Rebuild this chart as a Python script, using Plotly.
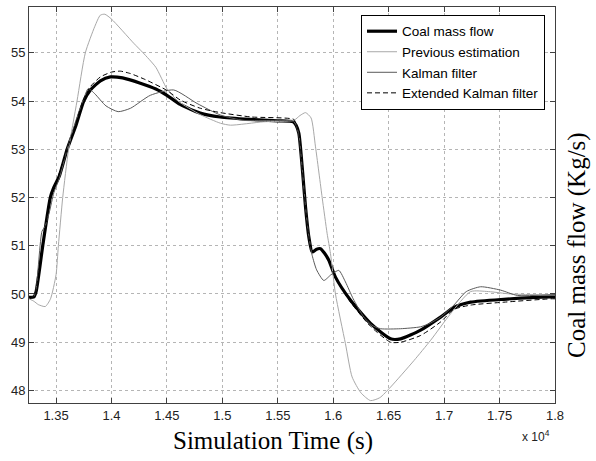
import plotly.graph_objects as go

# ---- data (time in units of 1e4 s, flow in kg/s) ----
t_coal = [1.3256, 1.3300, 1.3320, 1.3380, 1.3448, 1.3478, 1.3530, 1.3600, 1.3680, 1.3750, 1.3810, 1.3900,
          1.3990, 1.4100, 1.4260, 1.4400, 1.4500, 1.4620, 1.4800, 1.4980, 1.5250, 1.5500, 1.5640, 1.5665,
          1.5690, 1.5720, 1.5750, 1.5780, 1.5810, 1.5850, 1.5885, 1.5920, 1.5960, 1.6020, 1.6156, 1.6336,
          1.6517, 1.6607, 1.6788, 1.6968, 1.7088, 1.7239, 1.7539, 1.7961, 1.8000]
v_coal = [49.93, 49.94, 50.05, 51.00, 52.00, 52.20, 52.45, 53.00, 53.50, 54.00, 54.23, 54.42,
          54.50, 54.48, 54.37, 54.25, 54.12, 53.93, 53.75, 53.67, 53.62, 53.59, 53.57, 53.50,
          53.33, 52.63, 51.80, 51.18, 50.87, 50.93, 50.94, 50.85, 50.70, 50.35, 49.87, 49.39,
          49.07, 49.07, 49.25, 49.52, 49.72, 49.83, 49.89, 49.94, 49.94]

t_prev = [1.3256, 1.3300, 1.3340, 1.3403, 1.3450, 1.3500, 1.3521, 1.3560, 1.3613, 1.3689, 1.3764, 1.3850,
          1.3899, 1.3940, 1.4000, 1.4200, 1.4285, 1.4400, 1.4501, 1.4600, 1.4800, 1.4983, 1.5073, 1.5370,
          1.5644, 1.5700, 1.5750, 1.5800, 1.5840, 1.5900, 1.5945, 1.5975, 1.6020, 1.6110, 1.6170, 1.6250,
          1.6336, 1.6420, 1.6517, 1.6728, 1.6878, 1.7058, 1.7239, 1.7400, 1.7600, 1.8000]
v_prev = [49.90, 49.85, 49.78, 49.74, 49.90, 50.40, 51.00, 52.00, 53.00, 54.00, 55.00, 55.55,
          55.78, 55.80, 55.70, 55.20, 55.00, 54.70, 54.25, 54.00, 53.72, 53.54, 53.50, 53.57,
          53.60, 53.70, 53.76, 53.65, 53.05, 52.00, 51.25, 50.84, 50.00, 48.97, 48.28, 47.95,
          47.79, 47.85, 48.07, 48.62, 49.04, 49.59, 50.05, 50.05, 50.00, 49.98]

t_kal = [1.3256, 1.3300, 1.3320, 1.3373, 1.3400, 1.3440, 1.3480, 1.3530, 1.3600, 1.3680, 1.3750, 1.3791,
         1.3850, 1.3950, 1.4060, 1.4171, 1.4351, 1.4561, 1.4772, 1.4983, 1.5193, 1.5641, 1.5665, 1.5690,
         1.5720, 1.5750, 1.5780, 1.5810, 1.5850, 1.5915, 1.5980, 1.6050, 1.6110, 1.6180, 1.6276, 1.6350,
         1.6427, 1.6607, 1.6788, 1.6878, 1.6968, 1.7088, 1.7200, 1.7329, 1.7510, 1.7660, 1.8000]
v_kal = [49.95, 49.95, 50.10, 51.30, 51.40, 51.70, 52.10, 52.40, 53.00, 53.60, 54.05, 54.26,
         54.15, 53.90, 53.78, 53.85, 54.12, 54.23, 53.95, 53.71, 53.60, 53.58, 53.50, 53.30,
         52.60, 51.80, 51.20, 50.80, 50.50, 50.28, 50.40, 50.49, 50.25, 49.90, 49.52, 49.35,
         49.28, 49.28, 49.32, 49.40, 49.52, 49.77, 50.05, 50.15, 50.08, 49.97, 49.99]

t_ekf = [1.3256, 1.3300, 1.3320, 1.3380, 1.3448, 1.3500, 1.3600, 1.3680, 1.3750, 1.3810, 1.3900, 1.4000,
         1.4080, 1.4171, 1.4300, 1.4501, 1.4621, 1.4802, 1.4983, 1.5260, 1.5644, 1.5665, 1.5690, 1.5720,
         1.5750, 1.5780, 1.5810, 1.5850, 1.5885, 1.5920, 1.5960, 1.6020, 1.6156, 1.6336, 1.6517, 1.6607,
         1.6788, 1.6968, 1.7088, 1.7239, 1.7539, 1.7961, 1.8000]
v_ekf = [49.95, 49.95, 50.10, 51.00, 51.95, 52.30, 53.00, 53.55, 54.05, 54.30, 54.50, 54.60,
         54.62, 54.57, 54.45, 54.22, 54.02, 53.85, 53.76, 53.67, 53.62, 53.52, 53.35, 52.65,
         51.80, 51.20, 50.90, 50.92, 50.92, 50.83, 50.68, 50.33, 49.83, 49.33, 49.00, 49.00,
         49.14, 49.42, 49.68, 49.77, 49.83, 49.90, 49.90]

x_ticks = [1.35, 1.4, 1.45, 1.5, 1.55, 1.6, 1.65, 1.7, 1.75, 1.8]
x_tick_text = ["1.35", "1.4", "1.45", "1.5", "1.55", "1.6", "1.65", "1.7", "1.75", "1.8"]
y_ticks = [48, 49, 50, 51, 52, 53, 54, 55]
y_tick_text = ["48", "49", "50", "51", "52", "53", "54", "55"]

fig = go.Figure()
fig.add_trace(go.Scatter(x=t_coal, y=v_coal, name="Coal mass flow", mode="lines",
                         line=dict(color="black", width=3.2, shape="spline", smoothing=0.6)))
fig.add_trace(go.Scatter(x=t_prev, y=v_prev, name="Previous estimation", mode="lines",
                         line=dict(color="#a8a8a8", width=1, shape="spline", smoothing=0.6)))
fig.add_trace(go.Scatter(x=t_kal, y=v_kal, name="Kalman filter", mode="lines",
                         line=dict(color="#5a5a5a", width=1, shape="spline", smoothing=0.6)))
fig.add_trace(go.Scatter(x=t_ekf, y=v_ekf, name="Extended Kalman filter", mode="lines",
                         line=dict(color="black", width=1, dash="5px,3px", shape="spline", smoothing=0.6)))

axis_common = dict(showline=True, linecolor="#404040", linewidth=1, mirror="ticks",
                   ticks="inside", ticklen=5, tickcolor="#404040",
                   showgrid=True, gridcolor="#b5b5b5", griddash="dot", gridwidth=1,
                   zeroline=False,
                   tickfont=dict(family="Liberation Sans, Arial", size=13, color="#222222"))

fig.update_xaxes(range=[1.3256, 1.8], tickvals=x_ticks, ticktext=x_tick_text, **axis_common)
fig.update_yaxes(range=[47.74, 55.95], tickvals=y_ticks, ticktext=y_tick_text, **axis_common)

fig.update_layout(
    width=596, height=461,
    margin=dict(l=29, r=41, t=7, b=58),
    paper_bgcolor="white", plot_bgcolor="white",
    showlegend=True,
    legend=dict(x=0.981, y=0.98, xanchor="right", yanchor="top",
                bgcolor="white", bordercolor="black", borderwidth=1,
                font=dict(family="Liberation Sans, Arial", size=13.5, color="black"),
                tracegroupgap=0, itemwidth=30),
    annotations=[
        dict(text="Simulation Time (s)", xref="paper", yref="paper", x=(273 - 29) / 526, y=-(441 - 403) / 396,
             xanchor="center", yanchor="middle", showarrow=False,
             font=dict(family="Liberation Serif, Times New Roman", size=25, color="black")),
        dict(text="Coal mass flow (Kg/s)", xref="paper", yref="paper", x=(577 - 29) / 526, y=(403 - 245) / 396,
             xanchor="center", yanchor="middle", showarrow=False, textangle=-90,
             font=dict(family="Liberation Serif, Times New Roman", size=25, color="black")),
        dict(text="x 10<sup>4</sup>", xref="paper", yref="paper", x=(536 - 29) / 526, y=-(436 - 403) / 396,
             xanchor="center", yanchor="middle", showarrow=False,
             font=dict(family="Liberation Sans, Arial", size=12, color="#222222")),
    ],
)

fig.write_html("out.html")
